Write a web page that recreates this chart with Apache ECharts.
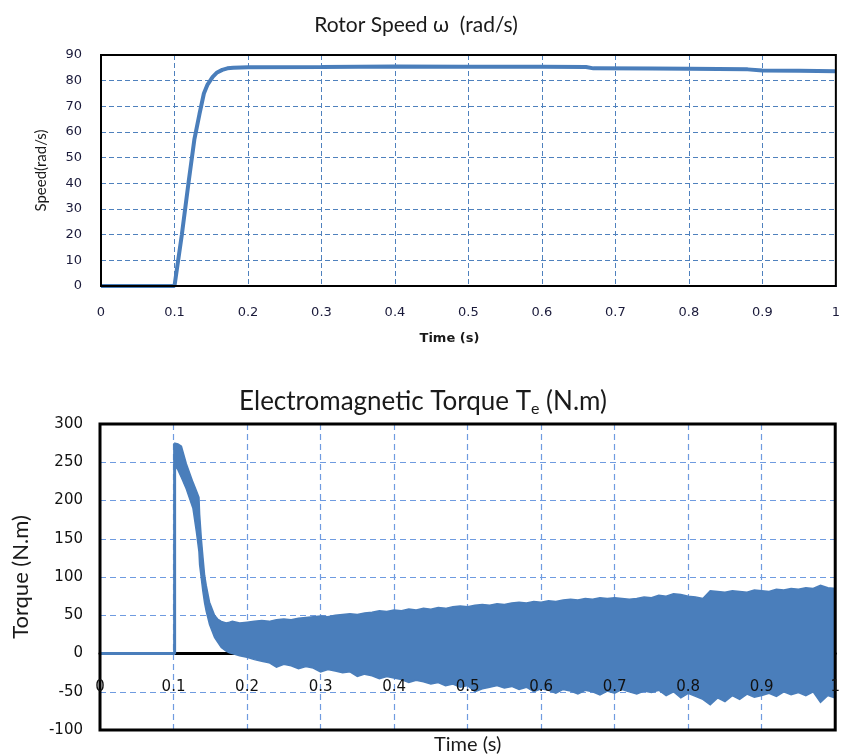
<!DOCTYPE html>
<html>
<head>
<meta charset="utf-8">
<script src="https://cdn.jsdelivr.net/npm/echarts@6/dist/echarts.min.js"></script>
<style>html,body{margin:0;padding:0;background:#fff;}#chart{width:843px;height:756px;}</style>
</head>
<body>
<div id="chart"></div>
<script>
// ---- Data ----
const xTicks = [0, 0.1, 0.2, 0.3, 0.4, 0.5, 0.6, 0.7, 0.8, 0.9, 1];

// Rotor speed (rad/s)
const speedTime  = [0, 0.1, 0.102, 0.11, 0.119, 0.127, 0.134, 0.14, 0.145, 0.152, 0.158, 0.165, 0.172, 0.18, 0.2, 0.3, 0.4, 0.5, 0.6, 0.66, 0.67, 0.75, 0.8, 0.88, 0.9, 0.95, 1.0];
const speedValue = [0, 0, 0.5, 20, 40, 57, 67, 75, 78.5, 81.5, 83.2, 84.2, 84.8, 85, 85.2, 85.3, 85.5, 85.4, 85.4, 85.3, 84.8, 84.7, 84.6, 84.4, 84.0, 83.9, 83.7];

// Torque before the band (zero then the step at ~0.1 s)
const torqueStepTime  = [0, 0.1015, 0.1015];
const torqueStepValue = [0, 0, 275];

// Torque ripple band: upper and lower envelopes (N.m)
const bandTime = [0.102, 0.106, 0.1107, 0.1174, 0.1264, 0.131, 0.1346, 0.1355, 0.1378, 0.14, 0.1423, 0.1445, 0.149, 0.1558, 0.16, 0.165, 0.1716, 0.176,
  0.18, 0.19, 0.20, 0.21, 0.22, 0.23, 0.24, 0.25, 0.26, 0.27, 0.28, 0.29, 0.30, 0.31, 0.32, 0.33, 0.34, 0.35, 0.36, 0.37, 0.38, 0.39,
  0.40, 0.41, 0.42, 0.43, 0.44, 0.45, 0.46, 0.47, 0.48, 0.49, 0.50, 0.51, 0.52, 0.53, 0.54, 0.55, 0.56, 0.57, 0.58, 0.59,
  0.60, 0.61, 0.62, 0.63, 0.64, 0.65, 0.66, 0.67, 0.68, 0.69, 0.70, 0.71, 0.72, 0.73, 0.74, 0.75, 0.76, 0.77, 0.78, 0.79,
  0.80, 0.81, 0.82, 0.83, 0.84, 0.85, 0.86, 0.87, 0.88, 0.89, 0.90, 0.91, 0.92, 0.93, 0.94, 0.95, 0.96, 0.97, 0.98, 0.99, 1.00];
const bandUpper = [275, 274, 271, 248, 224, 213, 204, 182, 150, 126, 102, 89, 67, 50, 45, 42, 40, 41,
  42, 40, 41, 42, 43, 42, 44, 45, 44, 46, 47, 48, 49, 48, 50, 51, 52, 51, 53, 54, 56, 55,
  57, 56, 58, 57, 59, 58, 60, 59, 61, 62, 61, 63, 64, 63, 65, 64, 66, 67, 66, 68,
  67, 69, 68, 70, 71, 70, 72, 71, 73, 72, 73, 72, 71, 72, 74, 73, 76, 75, 78, 77,
  75, 74, 72, 82, 81, 80, 82, 81, 80, 83, 82, 81, 84, 83, 85, 84, 86, 85, 89, 86, 85];
const bandLower = [245, 240, 230, 215, 190, 160, 133, 116, 98, 81, 66, 55, 38, 21, 15, 8, 3, 1,
  0, -3, -5, -8, -10, -12, -18, -14, -16, -20, -17, -19, -24, -21, -23, -25, -24, -30, -27, -29, -33, -30,
  -32, -34, -38, -35, -37, -40, -38, -42, -40, -44, -42, -50, -46, -44, -42, -45, -43, -47, -44, -50,
  -46, -48, -52, -47, -49, -53, -48, -50, -54, -49, -52, -47, -50, -53, -49, -51, -48, -55, -50, -58,
  -52, -56, -60, -67, -58, -63, -55, -60, -53, -57, -55, -52, -56, -50, -54, -51, -55, -50, -64, -55, -58];

// ---- Build the chart ----
const blue = '#4a7ebb';
const font = 'Lato, "Open Sans", sans-serif';
const tickFont = '"DejaVu Sans", Verdana, sans-serif';
const pair = (xs, ys) => xs.map((x, i) => [x, ys[i]]);
const bandData = bandTime.map((t, i) => [t, bandUpper[i], bandLower[i]]);

const chart = echarts.init(document.getElementById('chart'), null, {renderer: 'canvas'});
chart.setOption({
  animation: false,
  backgroundColor: '#fff',
  title: [
    {text: 'Rotor Speed ω  (rad/s)', left: 411, top: 10, textAlign: 'center',
     textStyle: {fontFamily: font, fontSize: 21, fontWeight: 'normal', color: '#1a1a1a'}},
    {text: 'Electromagnetic Torque T{s|e} (N.m)', left: 418, top: 382, textAlign: 'center',
     textStyle: {fontFamily: font, fontSize: 26, fontWeight: 'normal', color: '#1a1a1a',
       rich: {s: {fontFamily: font, fontSize: 16, verticalAlign: 'bottom', padding: [14, 0, 0, 0], color: '#1a1a1a'}}}}
  ],
  grid: [
    {left: 101, right: 2, top: 55, height: 231, show: true, z: 4, borderColor: '#000', borderWidth: 2, backgroundColor: 'transparent'},
    {left: 100, right: 5, top: 424, height: 306, show: true, z: 4, borderColor: '#000', borderWidth: 3, backgroundColor: 'transparent'}
  ],
  xAxis: [
    {gridIndex: 0, type: 'value', min: 0, max: 1, interval: 0.1,
     name: 'Time (s)', nameLocation: 'middle', nameGap: 46,
     nameTextStyle: {fontFamily: tickFont, fontSize: 13, fontWeight: 'bold', color: '#1a1a1a', padding: [0, 38, 0, 0]},
     axisLine: {onZero: false, lineStyle: {color: '#4f81bd', width: 2}},
     axisTick: {show: false},
     axisLabel: {fontFamily: tickFont, fontSize: 13, color: '#1a1a3a', margin: 20},
     splitLine: {show: true, showMinLine: false, showMaxLine: false, lineStyle: {color: '#4f81bd', type: [5, 3], width: 1}}},
    {gridIndex: 1, type: 'value', min: 0, max: 1, interval: 0.1, z: 0,
     axisLine: {onZero: true, lineStyle: {color: '#000', width: 3}},
     axisTick: {show: false},
     axisLabel: {show: false},
     splitLine: {show: true, showMinLine: false, showMaxLine: false, lineStyle: {color: '#6f9be0', type: [6, 4], width: 1.2}}},
    {gridIndex: 1, type: 'value', min: 0, max: 1, interval: 0.1, z: 10, position: 'bottom',
     name: 'Time (s)', nameLocation: 'middle', nameGap: 5,
     nameTextStyle: {fontFamily: font, fontSize: 20, color: '#1a1a1a'},
     axisLine: {show: false, onZero: false},
     axisTick: {show: false},
     axisLabel: {inside: true, margin: 35, fontFamily: tickFont, fontSize: 15, color: '#111'},
     splitLine: {show: false}}
  ],
  yAxis: [
    {gridIndex: 0, type: 'value', min: 0, max: 90, interval: 10,
     name: 'Speed(rad/s)', nameLocation: 'middle', nameGap: 52,
     nameTextStyle: {fontFamily: font, fontSize: 15, color: '#1a1a1a'},
     axisLine: {show: false}, axisTick: {show: false},
     axisLabel: {fontFamily: tickFont, fontSize: 13, color: '#1a1a3a', margin: 19},
     splitLine: {show: true, showMinLine: false, showMaxLine: false, lineStyle: {color: '#4f81bd', type: [5, 3], width: 1}}},
    {gridIndex: 1, type: 'value', min: -100, max: 300, interval: 50,
     name: 'Torque (N.m)', nameLocation: 'middle', nameGap: 68,
     nameTextStyle: {fontFamily: font, fontSize: 22, color: '#1a1a1a'},
     axisLine: {show: false}, axisTick: {show: false},
     axisLabel: {fontFamily: tickFont, fontSize: 15, color: '#111', margin: 17},
     splitLine: {show: true, showMinLine: false, showMaxLine: false, lineStyle: {color: '#6f9be0', type: [6, 4], width: 1.2}}}
  ],
  series: [
    {type: 'line', xAxisIndex: 0, yAxisIndex: 0, data: pair(speedTime, speedValue),
     showSymbol: false, lineStyle: {color: blue, width: 4}, z: 3},
    {type: 'line', xAxisIndex: 1, yAxisIndex: 1, data: pair(torqueStepTime, torqueStepValue),
     showSymbol: false, lineStyle: {color: blue, width: 3}, z: 3},
    {type: 'custom', xAxisIndex: 1, yAxisIndex: 1, data: bandData, z: 3,
     encode: {x: 0, y: [1, 2]},
     renderItem: function (params, api) {
       if (params.dataIndex !== 0) return null;
       const pts = [];
       for (let i = 0; i < bandData.length; i++) pts.push(api.coord([bandData[i][0], bandData[i][1]]));
       for (let i = bandData.length - 1; i >= 0; i--) pts.push(api.coord([bandData[i][0], bandData[i][2]]));
       return {type: 'polygon', shape: {points: pts},
               style: {fill: blue, stroke: blue, lineWidth: 1.5}};
     }}
  ]
});
</script>
</body>
</html>
